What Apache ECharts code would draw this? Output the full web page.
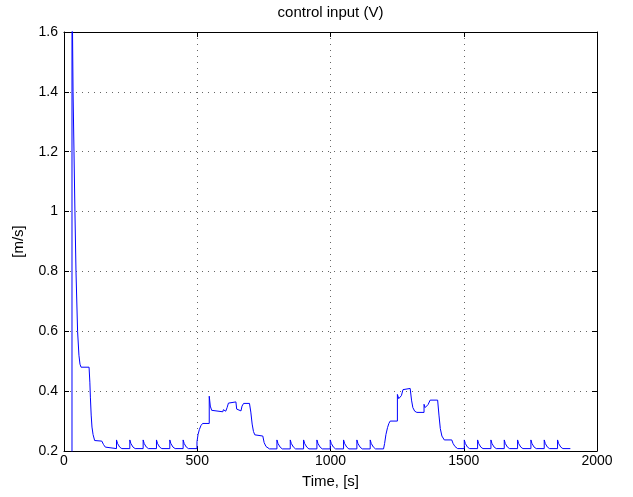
<!DOCTYPE html>
<html>
<head>
<meta charset="utf-8">
<script src="https://cdn.jsdelivr.net/npm/echarts@6/dist/echarts.min.js"></script>
<style>
html,body{margin:0;padding:0;background:#fff;}
#chart{width:633px;height:497px;}
</style>
</head>
<body>
<div id="chart"></div>
<script>
// ---- data ----
var chartTitle = 'control input (V)';
var xName = 'Time, [s]';
var yName = '[m/s]';
var xTicks = [0, 500, 1000, 1500, 2000];
var yTicks = [0.2, 0.4, 0.6, 0.8, 1, 1.2, 1.4, 1.6];

var timeS = [
  0, 30, 30, 32, 34, 37.5, 41, 45, 51, 56, 60, 64, 94, 97, 99, 102, 105, 109, 115, 142, 148, 155, 161,
  197, 197, 201, 209, 217,
  247, 247, 251, 259, 267,
  297, 297, 301, 309, 317,
  347, 347, 351, 359, 367,
  397, 397, 401, 409, 417,
  447, 447, 451, 459, 467,
  499, 499, 503, 508, 514, 520, 545, 545, 549, 554, 561, 596, 598, 600, 607, 612, 617, 621, 645, 648, 652,
  664, 668, 674, 696, 701, 706, 711, 716, 721, 746, 751, 758, 765, 771,
  799, 799, 803, 811, 819,
  849, 849, 853, 861, 869,
  899, 899, 903, 911, 919,
  949, 949, 953, 961, 969,
  999, 999, 1003, 1011, 1019,
  1049, 1049, 1053, 1061, 1069,
  1099, 1099, 1103, 1111, 1119,
  1149, 1149, 1153, 1161, 1169,
  1199, 1203, 1208, 1214, 1219, 1224, 1251, 1251, 1256, 1261, 1266, 1272, 1277, 1299, 1304, 1309, 1316, 1324,
  1351, 1351, 1355, 1359, 1366, 1374, 1402, 1407, 1412, 1418, 1427, 1455, 1460, 1467, 1477,
  1502, 1502, 1506, 1514, 1522,
  1552, 1552, 1556, 1564, 1572,
  1602, 1602, 1606, 1614, 1622,
  1652, 1652, 1656, 1664, 1672,
  1702, 1702, 1706, 1714, 1722,
  1752, 1752, 1756, 1764, 1772,
  1802, 1802, 1806, 1814, 1822,
  1852, 1852, 1856, 1864, 1872,
  1900
];
var controlV = [
  0, 0, 1.9, 1.6, 1.4, 1.2, 1.0, 0.8, 0.6, 0.52, 0.49, 0.48, 0.48, 0.43, 0.38, 0.32, 0.28, 0.255, 0.235, 0.233, 0.222, 0.213, 0.208,
  0.208, 0.237, 0.225, 0.213, 0.208,
  0.208, 0.237, 0.225, 0.213, 0.208,
  0.208, 0.237, 0.225, 0.213, 0.208,
  0.208, 0.237, 0.225, 0.213, 0.208,
  0.208, 0.237, 0.225, 0.213, 0.208,
  0.208, 0.237, 0.225, 0.213, 0.208,
  0.208, 0.231, 0.255, 0.272, 0.285, 0.292, 0.292, 0.383, 0.35, 0.336, 0.331, 0.331, 0.338, 0.332, 0.333, 0.345, 0.36, 0.364, 0.364, 0.34, 0.334,
  0.334, 0.35, 0.359, 0.359, 0.33, 0.29, 0.265, 0.254, 0.25, 0.25, 0.228, 0.215, 0.21, 0.207,
  0.207, 0.237, 0.225, 0.213, 0.207,
  0.207, 0.237, 0.225, 0.213, 0.207,
  0.207, 0.237, 0.225, 0.213, 0.207,
  0.207, 0.237, 0.225, 0.213, 0.207,
  0.207, 0.237, 0.225, 0.213, 0.207,
  0.207, 0.237, 0.225, 0.213, 0.207,
  0.207, 0.237, 0.225, 0.213, 0.207,
  0.207, 0.237, 0.225, 0.213, 0.207,
  0.207, 0.225, 0.255, 0.278, 0.292, 0.3, 0.3, 0.389, 0.375, 0.37, 0.385, 0.405, 0.409, 0.409, 0.37, 0.345, 0.333, 0.329,
  0.329, 0.356, 0.345, 0.34, 0.355, 0.37, 0.37, 0.32, 0.275, 0.25, 0.237, 0.237, 0.225, 0.215, 0.208,
  0.208, 0.237, 0.225, 0.213, 0.208,
  0.208, 0.237, 0.225, 0.213, 0.208,
  0.208, 0.237, 0.225, 0.213, 0.208,
  0.208, 0.237, 0.225, 0.213, 0.208,
  0.208, 0.237, 0.225, 0.213, 0.208,
  0.208, 0.237, 0.225, 0.213, 0.208,
  0.208, 0.237, 0.225, 0.213, 0.208,
  0.208, 0.237, 0.225, 0.213, 0.208,
  0.208
];

// ---- chart ----
var pts = timeS.map(function (t, i) { return [t, controlV[i]]; });
var FONT = '"Liberation Sans", Arial, Helvetica, sans-serif';
var GRID = { left: 64, right: 36, top: 32, bottom: 46 };
var gridDash = { color: '#666', width: 1, type: [1, 5] };
var axisLine = { show: true, onZero: false, lineStyle: { color: '#000', width: 1 } };
var tick = { show: true, inside: true, length: 5, lineStyle: { color: '#000' } };

function fmtY(v) { return String(parseFloat(v.toFixed(2))); }
function fmtX(v) { return String(v); }

var chart = echarts.init(document.getElementById('chart'), null, { renderer: 'canvas' });
chart.setOption({
  animation: false,
  backgroundColor: '#fff',
  textStyle: { fontFamily: FONT },
  grid: GRID,
  graphic: [{
    type: 'text',
    x: GRID.left + (633 - GRID.left - GRID.right) / 2,
    y: 13,
    style: { text: chartTitle, fill: '#000', font: '15px ' + FONT, textAlign: 'center', textVerticalAlign: 'middle' }
  }],
  xAxis: [{
    type: 'value', min: xTicks[0], max: xTicks[xTicks.length - 1], interval: 500,
    position: 'bottom',
    name: xName, nameLocation: 'middle', nameGap: 23,
    nameTextStyle: { color: '#000', fontSize: 15, fontFamily: FONT },
    axisLine: axisLine, axisTick: tick,
    axisLabel: { color: '#000', fontSize: 14, fontFamily: FONT, margin: 3, formatter: fmtX },
    splitLine: { show: true, lineStyle: gridDash }
  }, {
    type: 'value', min: xTicks[0], max: xTicks[xTicks.length - 1], interval: 500,
    position: 'top',
    axisLine: axisLine, axisTick: tick, axisLabel: { show: false }, splitLine: { show: false }
  }],
  yAxis: [{
    type: 'value', min: yTicks[0], max: yTicks[yTicks.length - 1], interval: 0.2,
    position: 'left',
    name: yName, nameLocation: 'middle', nameGap: 38,
    nameTextStyle: { color: '#000', fontSize: 15, fontFamily: FONT },
    axisLine: axisLine, axisTick: tick,
    axisLabel: { color: '#000', fontSize: 14, fontFamily: FONT, margin: 6, formatter: fmtY },
    splitLine: { show: true, lineStyle: gridDash }
  }, {
    type: 'value', min: yTicks[0], max: yTicks[yTicks.length - 1], interval: 0.2,
    position: 'right',
    axisLine: axisLine, axisTick: tick, axisLabel: { show: false }, splitLine: { show: false }
  }],
  series: [{
    type: 'line',
    xAxisIndex: 0, yAxisIndex: 0,
    data: pts,
    showSymbol: false, symbol: 'none',
    clip: true,
    lineStyle: { color: '#0000ff', width: 1 },
    itemStyle: { color: '#0000ff' }
  }]
});
</script>
</body>
</html>
